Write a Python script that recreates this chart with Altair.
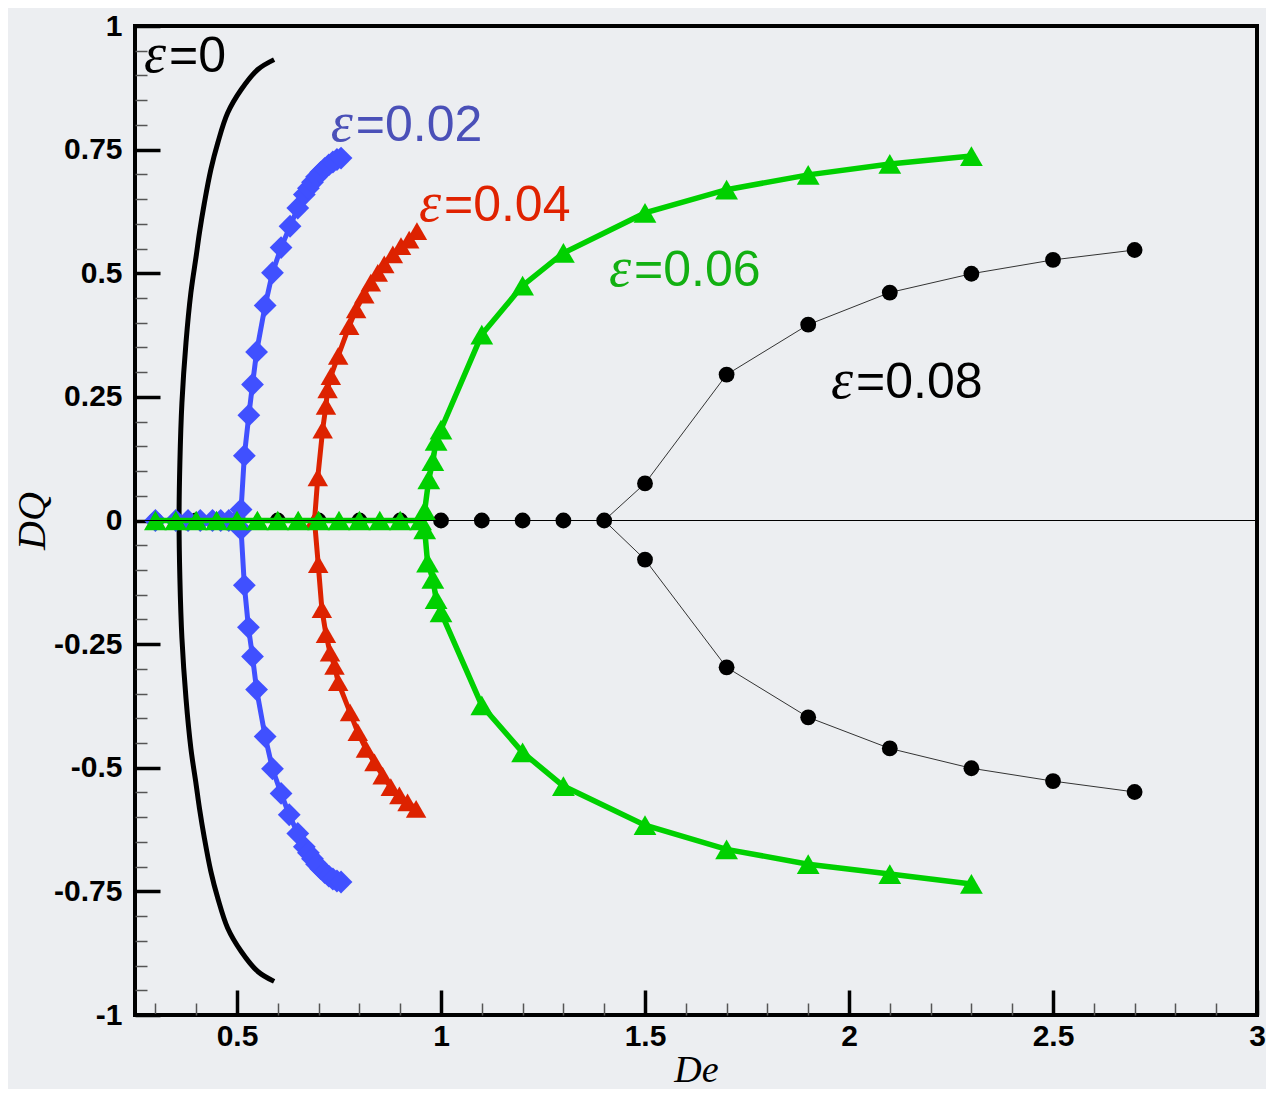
import altair as alt
import pandas as pd

# ---------------- data ----------------
# epsilon = 0 : continuous curve
e0_x = [0.591, 0.551, 0.510, 0.477, 0.453, 0.436, 0.420, 0.408, 0.400, 0.387, 0.375, 0.365, 0.360, 0.358,
        0.360, 0.365, 0.375, 0.387, 0.400, 0.408, 0.420, 0.436, 0.453, 0.477, 0.510, 0.551, 0.591]
e0_y = [0.932, 0.912, 0.871, 0.824, 0.764, 0.710, 0.642, 0.582, 0.535, 0.461, 0.360, 0.238, 0.117, 0.0,
        -0.117, -0.238, -0.360, -0.461, -0.535, -0.582, -0.642, -0.710, -0.764, -0.824, -0.871, -0.912, -0.932]

# epsilon = 0.02 (diamonds)
b_zero_x = [0.30, 0.35, 0.38, 0.41, 0.44, 0.46, 0.48, 0.50]
b_up_x = [0.510, 0.518, 0.529, 0.538, 0.548, 0.569, 0.587, 0.608, 0.630, 0.649, 0.665, 0.675, 0.685,
          0.695, 0.705, 0.715, 0.725, 0.735, 0.745, 0.755]
b_up_y = [0.022, 0.131, 0.213, 0.275, 0.341, 0.435, 0.501, 0.552, 0.595, 0.632, 0.659, 0.672, 0.684,
          0.695, 0.704, 0.712, 0.719, 0.725, 0.730, 0.733]
b_lo_x = [0.510, 0.518, 0.528, 0.538, 0.548, 0.569, 0.587, 0.608, 0.628, 0.649, 0.665, 0.675, 0.685,
          0.695, 0.705, 0.715, 0.725, 0.735, 0.745, 0.755]
b_lo_y = [-0.018, -0.131, -0.216, -0.275, -0.342, -0.437, -0.502, -0.552, -0.595, -0.633, -0.660, -0.672,
          -0.684, -0.695, -0.704, -0.712, -0.719, -0.725, -0.729, -0.731]

# epsilon = 0.04 (triangles)
r_zero_x = [0.30, 0.35, 0.40, 0.45, 0.50, 0.55, 0.60, 0.65, 0.69]
r_up_x = [0.698, 0.710, 0.718, 0.722, 0.730, 0.748, 0.775, 0.792, 0.812, 0.828, 0.845, 0.861, 0.882,
          0.902, 0.922, 0.941]
r_up_y = [0.087, 0.184, 0.232, 0.265, 0.292, 0.333, 0.393, 0.427, 0.457, 0.481, 0.501, 0.518, 0.538,
          0.555, 0.568, 0.585]
r_lo_x = [0.699, 0.708, 0.718, 0.728, 0.739, 0.748, 0.777, 0.796, 0.816, 0.837, 0.857, 0.877, 0.898,
          0.918, 0.939]
r_lo_y = [-0.088, -0.179, -0.230, -0.267, -0.294, -0.327, -0.388, -0.428, -0.462, -0.489, -0.516, -0.539,
          -0.556, -0.570, -0.583]

# epsilon = 0.06 (triangles)
g_zero_x = [0.30, 0.35, 0.40, 0.45, 0.50, 0.55, 0.60, 0.65, 0.70, 0.75, 0.80, 0.85, 0.90, 0.95]
g_up_x = [0.960, 0.970, 0.980, 0.988, 1.000, 1.100, 1.200, 1.300, 1.500, 1.700, 1.900, 2.100, 2.300]
g_up_y = [0.020, 0.083, 0.120, 0.161, 0.184, 0.376, 0.475, 0.541, 0.622, 0.669, 0.699, 0.721, 0.737]
g_lo_x = [0.960, 0.967, 0.980, 0.988, 1.000, 1.100, 1.200, 1.300, 1.500, 1.700, 1.900, 2.100, 2.300]
g_lo_y = [-0.018, -0.085, -0.118, -0.159, -0.186, -0.374, -0.469, -0.537, -0.616, -0.665, -0.695, -0.715,
          -0.735]

# epsilon = 0.08 (circles)
k_zero_x = [0.3, 0.4, 0.5, 0.6, 0.7, 0.8, 0.9, 1.0, 1.1, 1.2, 1.3, 1.4]
k_up_x = [1.5, 1.7, 1.9, 2.1, 2.3, 2.5, 2.7]
k_up_y = [0.075, 0.295, 0.396, 0.461, 0.499, 0.527, 0.547]
k_lo_x = [1.5, 1.7, 1.9, 2.1, 2.3, 2.5, 2.7]
k_lo_y = [-0.079, -0.297, -0.398, -0.461, -0.501, -0.527, -0.549]

# labels
lab_x = [0.272, 0.730, 0.946, 1.412, 1.956]
lab_y = [0.907, 0.768, 0.606, 0.475, 0.248]
lab_text = ["=0", "=0.02", "=0.04", "=0.06", "=0.08"]
lab_color = ["#000000", "#4a50b8", "#e02200", "#12b012", "#000000"]

zero_line_y = [0]

x_major = [0.5, 1, 1.5, 2, 2.5, 3]
x_minor = [0.3, 0.4, 0.6, 0.7, 0.8, 0.9, 1.1, 1.2, 1.3, 1.4, 1.6, 1.7, 1.8, 1.9,
           2.1, 2.2, 2.3, 2.4, 2.6, 2.7, 2.8, 2.9]
y_major = [-1, -0.75, -0.5, -0.25, 0, 0.25, 0.5, 0.75, 1]
y_minor = [-0.95, -0.9, -0.85, -0.8, -0.7, -0.65, -0.6, -0.55, -0.45, -0.4, -0.35, -0.3,
           -0.2, -0.15, -0.1, -0.05, 0.05, 0.1, 0.15, 0.2, 0.3, 0.35, 0.4, 0.45,
           0.55, 0.6, 0.65, 0.7, 0.8, 0.85, 0.9, 0.95]

# ---------------- build tables ----------------
def frames(zx, ux, uy, lx, ly):
    pts = [(v, 0.0) for v in zx] + list(zip(ux, uy)) + list(zip(lx, ly))
    p = pd.DataFrame(pts, columns=["x", "y"])
    rows = [(v, 0.0, "zero", i) for i, v in enumerate(zx)]
    j = zx[-1]
    rows.append((j, 0.0, "up", 0))
    rows += [(a, b, "up", i + 1) for i, (a, b) in enumerate(zip(ux, uy))]
    rows.append((j, 0.0, "lo", 0))
    rows += [(a, b, "lo", i + 1) for i, (a, b) in enumerate(zip(lx, ly))]
    l = pd.DataFrame(rows, columns=["x", "y", "b", "o"])
    return p, l

W, H = 1122, 989
xs = alt.Scale(domain=[0.25, 3], nice=False, zero=False)
ys = alt.Scale(domain=[-1, 1], nice=False, zero=False)
Xn = alt.X("x:Q", scale=xs, axis=None)
Yn = alt.Y("y:Q", scale=ys, axis=None)

def series(zx, ux, uy, lx, ly, color, sw, shape, size, lcolor=None):
    p, l = frames(zx, ux, uy, lx, ly)
    line = alt.Chart(l).mark_line(color=lcolor or color, strokeWidth=sw).encode(
        x=Xn, y=Yn, detail="b:N", order="o:Q")
    pt = alt.Chart(p).mark_point(shape=shape, filled=True, size=size, color=color, opacity=1).encode(
        x=Xn, y=Yn)
    return [line, pt]

e0_df = pd.DataFrame({"x": e0_x, "y": e0_y, "o": list(range(len(e0_x)))})
e0_line = alt.Chart(e0_df).mark_line(color="black", strokeWidth=5, interpolate="catmull-rom").encode(
    x=Xn, y=Yn, order="o:Q")

k_layers = series(k_zero_x, k_up_x, k_up_y, k_lo_x, k_lo_y, "#000000", 1.0, "circle", 250, "#333333")
b_layers = series(b_zero_x, b_up_x, b_up_y, b_lo_x, b_lo_y, "#4050ff", 5, "diamond", 520)
r_layers = series(r_zero_x, r_up_x, r_up_y, r_lo_x, r_lo_y, "#dd2200", 5, "triangle-up", 420)
g_layers = series(g_zero_x, g_up_x, g_up_y, g_lo_x, g_lo_y, "#00d000", 5.5, "triangle-up", 520)

zero_rule = alt.Chart(pd.DataFrame({"y": zero_line_y})).mark_rule(color="black", strokeWidth=1).encode(y=Yn)

lab_df = pd.DataFrame({"x": lab_x, "y": lab_y, "t": lab_text, "c": lab_color, "e": ["ε"] * len(lab_x)})
eps_text = alt.Chart(lab_df).mark_text(font="Liberation Serif", fontStyle="italic", fontSize=56,
                                       align="left", baseline="alphabetic").encode(
    x=Xn, y=Yn, text="e:N", color=alt.Color("c:N", scale=None))
num_text = alt.Chart(lab_df).mark_text(font="Liberation Sans", fontSize=50, align="left",
                                       baseline="alphabetic", dx=25).encode(
    x=Xn, y=Yn, text="t:N", color=alt.Color("c:N", scale=None))

# ---------------- axes ----------------
all_pts = e0_df[["x", "y"]]

x_main_axis = alt.Axis(orient="bottom", values=x_major, tickSize=0, domain=False, grid=False,
                       labelFont="Liberation Sans", labelFontWeight="bold", labelFontSize=30,
                       labelColor="black", labelPadding=6, labelFlush=False, labelOverlap=False,
                       labelExpr="'' + datum.value",
                       title="De", titleFont="Liberation Serif", titleFontStyle="italic",
                       titleFontWeight="normal", titleFontSize=38, titleColor="black", titlePadding=0)
y_main_axis = alt.Axis(orient="left", values=y_major, tickSize=0, domain=False, grid=False,
                       labelFont="Liberation Sans", labelFontWeight="bold", labelFontSize=30,
                       labelColor="black", labelPadding=13, labelFlush=False, labelOverlap=False,
                       labelExpr="'' + datum.value",
                       title="DQ", titleFont="Liberation Serif", titleFontStyle="italic",
                       titleFontWeight="normal", titleFontSize=40, titleColor="black", titlePadding=1)
main_axes = alt.Chart(all_pts).mark_point(opacity=0).encode(
    x=alt.X("x:Q", scale=xs, axis=x_main_axis), y=alt.Y("y:Q", scale=ys, axis=y_main_axis))

def tick_layer(xv, yv, size, width, color):
    ax = alt.Axis(orient="top", offset=-H, values=xv, tickSize=size, tickWidth=width, tickColor=color,
                  labels=False, domain=False, grid=False, title=None)
    ay = alt.Axis(orient="right", offset=-W, values=yv, tickSize=size, tickWidth=width, tickColor=color,
                  labels=False, domain=False, grid=False, title=None)
    return alt.Chart(all_pts).mark_point(opacity=0).encode(
        x=alt.X("x:Q", scale=xs, axis=ax), y=alt.Y("y:Q", scale=ys, axis=ay))

minor_ticks = tick_layer(x_minor, y_minor, 12, 1.5, "#555555")
major_ticks = tick_layer(x_major, y_major, 25, 3.5, "#000000")

layers = ([main_axes, minor_ticks, major_ticks, e0_line] + k_layers + b_layers + r_layers + g_layers
          + [zero_rule, eps_text, num_text])

chart = alt.layer(*layers).resolve_axis(x="independent", y="independent").properties(
    width=W, height=H, background="#eceef1",
    padding={"left": 4, "top": 3, "right": 0, "bottom": 0}
).configure_view(stroke="black", strokeWidth=4)

chart.save("out.html", embed_options={"renderer": "svg", "actions": False})
